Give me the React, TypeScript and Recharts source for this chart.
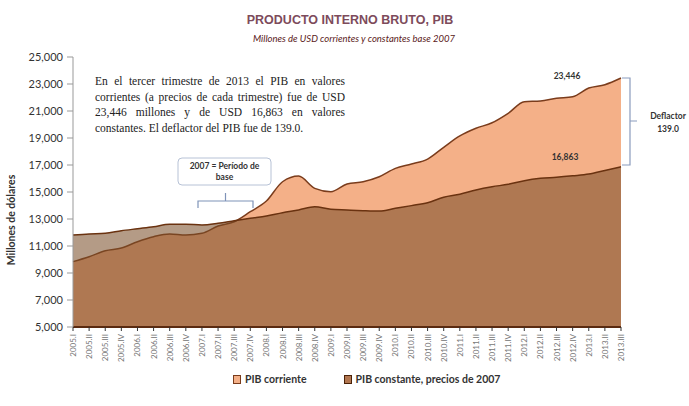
import { Area, AreaChart, LabelList, XAxis, YAxis } from "recharts";

const quarters = [
  "2005.I", "2005.II", "2005.III", "2005.IV",
  "2006.I", "2006.II", "2006.III", "2006.IV",
  "2007.I", "2007.II", "2007.III", "2007.IV",
  "2008.I", "2008.II", "2008.III", "2008.IV",
  "2009.I", "2009.II", "2009.III", "2009.IV",
  "2010.I", "2010.II", "2010.III", "2010.IV",
  "2011.I", "2011.II", "2011.III", "2011.IV",
  "2012.I", "2012.II", "2012.III", "2012.IV",
  "2013.I", "2013.II", "2013.III",
];

// PIB a precios corrientes (millones USD)
const corriente = [
  9840, 10200, 10650, 10850, 11320, 11690, 11890, 11810,
  11940, 12480, 12800, 13540, 14330, 15760, 16180, 15270,
  15020, 15590, 15760, 16130, 16750, 17070, 17440, 18310,
  19150, 19720, 20130, 20830, 21690, 21740, 21940, 22050,
  22700, 22950, 23446,
];

// PIB constante, precios de 2007
const constante = [
  11810, 11890, 11940, 12130, 12280, 12430, 12610, 12610,
  12560, 12680, 12870, 13050, 13220, 13470, 13670, 13910,
  13720, 13670, 13620, 13590, 13790, 13990, 14210, 14610,
  14830, 15150, 15390, 15570, 15840, 16010, 16090, 16200,
  16330, 16600, 16863,
];

const yTicks = [5000, 7000, 9000, 11000, 13000, 15000, 17000, 19000, 21000, 23000, 25000];

const data = quarters.map((q, i) => ({ q, corriente: corriente[i], constante: constante[i] }));

const LAST = quarters.length - 1;
const fmt = (v: number) => v.toLocaleString("en-US");

function XTick({ x, y, payload }: any) {
  return (
    <text
      x={x}
      y={y}
      transform={`rotate(-90 ${x} ${y})`}
      textAnchor="end"
      dominantBaseline="central"
      fontSize={8}
      fill="#777"
      fontFamily="Lato"
    >
      {payload.value}
    </text>
  );
}

function lastLabel(dx: number, dy: number) {
  return (props: any) => {
    if (props.index !== LAST) return null;
    return (
      <text
        x={props.x + dx}
        y={props.y + dy}
        textAnchor="middle"
        fontSize={8.5}
        fontWeight="bold"
        fill="#333"
        fontFamily="Lato"
      >
        {fmt(props.value)}
      </text>
    );
  };
}

const abs = (left: number, top: number): React.CSSProperties => ({ position: "absolute", left, top });

export default function App() {
  return (
    <div style={{ position: "absolute", left: 0, top: 0, width: 689, height: 406, background: "#fff", overflow: "hidden" }}>
      <AreaChart width={689} height={406} data={data} margin={{ top: 57, right: 68, bottom: 0, left: 0 }}>
        <XAxis
          dataKey="q"
          interval={0}
          height={79}
          tick={<XTick />}
          tickSize={4}
          tickMargin={3}
          tickLine={{ stroke: "#333" }}
          axisLine={{ stroke: "#5a2a10", strokeWidth: 2 }}
        />
        <YAxis
          width={73}
          domain={[5000, 25000]}
          ticks={yTicks}
          allowDataOverflow
          tickFormatter={fmt}
          tickSize={6}
          tickMargin={4}
          tick={{ fontSize: 11, fill: "#333", fontFamily: "Lato" }}
          axisLine={{ stroke: "#999" }}
          tickLine={{ stroke: "#999" }}
        />
        <Area
          type="monotone"
          dataKey="corriente"
          fill="#f4b088"
          fillOpacity={1}
          stroke="#7a3c1c"
          strokeWidth={1.5}
          dot={false}
          isAnimationActive={false}
        >
          <LabelList dataKey="corriente" content={lastLabel(-54, 1)} />
        </Area>
        <Area
          type="monotone"
          dataKey="constante"
          fill="#7a4c28"
          fillOpacity={0.56}
          stroke="#6a3210"
          strokeWidth={1.5}
          dot={false}
          isAnimationActive={false}
        >
          <LabelList dataKey="constante" content={lastLabel(-56, -7)} />
        </Area>
      </AreaChart>

      {/* brackets */}
      <svg width={689} height={406} style={abs(0, 0)} pointerEvents="none">
        <path d="M198 208 L198 201 L253 201 L253 208 M225.5 201 L225.5 193" fill="none" stroke="#7f93b8" strokeWidth={1.2} />
        <rect x={178} y={158} width={93} height={27} rx={4} fill="#fff" stroke="#b7c2d6" />
        <path d="M622 78 L630 78 L630 165 L622 165 M630 121 L637 121" fill="none" stroke="#8a9bbd" strokeWidth={1.2} />
      </svg>

      <div style={{ ...abs(0, 13), width: 700, textAlign: "center", fontFamily: "'Liberation Sans', Arial", fontWeight: "bold", fontSize: 12.5, color: "#7d4b5b" }}>
        PRODUCTO INTERNO BRUTO, PIB
      </div>
      <div style={{ ...abs(0, 33), width: 708, textAlign: "center", fontFamily: "Lato", fontStyle: "italic", fontSize: 9.5, color: "#5a2020" }}>
        Millones de USD corrientes y constantes base 2007
      </div>

      <div
        style={{
          ...abs(-89, 214),
          width: 200,
          textAlign: "center",
          transform: "rotate(-90deg)",
          fontFamily: "Lato",
          fontWeight: "bold",
          fontSize: 10.5,
          color: "#333",
        }}
      >
        Millones de dólares
      </div>

      <div
        style={{
          ...abs(95, 74),
          width: 250,
          textAlign: "justify",
          fontFamily: "'Liberation Serif', 'Times New Roman', serif",
          fontSize: 11.5,
          lineHeight: "15.5px",
          color: "#222",
        }}
      >
        En el tercer trimestre de 2013 el PIB en valores corrientes (a precios de cada trimestre) fue de USD 23,446 millones y de USD 16,863 en valores constantes. El deflactor del PIB fue de 139.0.
      </div>

      <div style={{ ...abs(178, 161), width: 93, textAlign: "center", fontFamily: "Lato", fontWeight: "bold", fontSize: 8.5, lineHeight: "11px", color: "#333" }}>
        2007 = Período de
        <br />
        base
      </div>

      <div style={{ ...abs(640, 110), width: 56, textAlign: "center", fontFamily: "Lato", fontWeight: "bold", fontSize: 8.5, lineHeight: "13px", color: "#333" }}>
        Deflactor
        <br />
        139.0
      </div>

      {/* legend */}
      <div style={{ ...abs(233, 373), display: "flex", alignItems: "center", fontFamily: "Lato", fontWeight: "bold", fontSize: 10.5, color: "#333" }}>
        <span style={{ width: 6, height: 7, background: "#f4b088", border: "1px solid #7a3c1c", marginRight: 4 }} />
        <span style={{ marginRight: 37 }}>PIB corriente</span>
        <span style={{ width: 6, height: 7, background: "#b27650", border: "1px solid #4a2208", marginRight: 4 }} />
        <span>PIB constante, precios de 2007</span>
      </div>
    </div>
  );
}
